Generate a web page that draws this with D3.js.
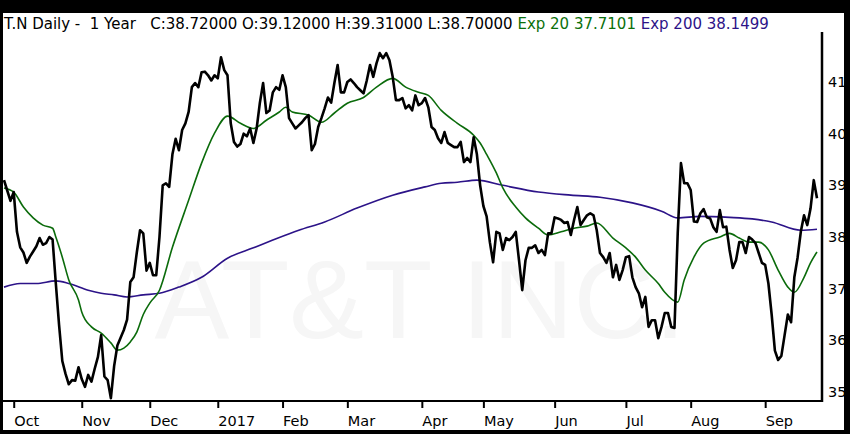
<!DOCTYPE html>
<html lang="en">
	<head>
		<meta charset="UTF-8">
		<title>T.N Daily - 1 Year</title>
		<script src="https://d3js.org/d3.v7.min.js"></script>
		<style>
			body {
				margin: 0;
				background: black;
			}

			svg text {
				font-family: "DejaVu Sans", sans-serif;
			}

			.axis text {
				font-size: 14.5px;
				fill: black;
			}

			.axis line {
				stroke: black;
				stroke-width: 2;
			}

			.watermark {
				font-family: "Liberation Sans", Arial, sans-serif !important;
				font-size: 112px;
				fill: #f6f6f6;
			}
		</style>
	</head>
	<body>
		<div id="chart"></div>
		<script>
			// daily closes, one per trading day (late Sep 2016 .. Sep 2017)
			const closes = [
				39.1, 38.9, 38.7, 38.87, 38.1, 37.8, 37.7, 37.5, 37.62, 37.72,
				37.82, 37.98, 37.85, 37.88, 38.0, 37.95, 37.1, 36.3, 35.6, 35.35,
				35.15, 35.23, 35.22, 35.48, 35.25, 35.1, 35.33, 35.2, 35.45, 35.68,
				36.1, 35.3, 35.23, 34.88, 35.5, 35.9, 36.05, 36.2, 36.4, 37.13,
				37.22, 37.7, 38.13, 38.07, 37.35, 37.5, 37.26, 37.26, 38.0, 39.0,
				39.04, 38.97, 39.6, 39.9, 39.68, 40.07, 40.2, 40.42, 40.9, 40.98,
				40.9, 41.19, 41.2, 41.13, 41.03, 41.13, 41.07, 41.48, 41.23, 41.13,
				40.2, 39.84, 39.75, 39.8, 40.0, 39.95, 40.1, 39.82, 40.1, 40.6,
				40.98, 40.4, 40.45, 40.8, 40.9, 40.85, 41.13, 40.9, 40.3, 40.2,
				40.1, 40.16, 40.22, 40.3, 40.36, 39.68, 39.8, 40.13, 40.3, 40.49,
				40.7, 40.6, 40.98, 41.33, 40.8, 40.8, 41.0, 41.05, 40.98, 40.9,
				40.84, 40.78, 41.03, 41.33, 41.1, 41.36, 41.56, 41.46, 41.56, 41.42,
				41.1, 40.65, 40.65, 40.69, 40.49, 40.55, 40.45, 40.74, 40.55, 40.59,
				40.69, 40.51, 40.13, 40.07, 39.91, 39.82, 40.03, 39.82, 39.78, 39.74,
				39.74, 39.84, 39.45, 39.53, 39.45, 39.93, 39.6, 39.0, 38.6, 38.4,
				37.9, 37.51, 38.1, 38.07, 37.75, 37.98, 37.94, 38.0, 38.1, 37.55,
				36.97, 37.55, 37.79, 37.79, 37.84, 37.69, 37.75, 37.65, 38.07, 38.07,
				38.38, 38.36, 38.33, 38.27, 38.29, 38.04, 38.33, 38.58, 38.23, 38.33,
				38.42, 38.46, 38.42, 38.13, 37.69, 37.61, 37.5, 37.69, 37.22, 37.46,
				37.17, 37.36, 37.61, 37.63, 37.22, 37.03, 36.91, 36.64, 36.84, 36.26,
				36.39, 36.39, 36.04, 36.26, 36.53, 36.53, 36.26, 36.24, 38.07, 39.43,
				39.04, 39.04, 38.91, 38.3, 38.29, 38.46, 38.54, 38.38, 38.36, 38.19,
				38.1, 38.52, 38.19, 38.2, 37.75, 37.4, 37.55, 37.9, 37.9, 37.69,
				38.0, 37.95, 37.88, 37.69, 37.5, 37.46, 37.1, 36.5, 35.8, 35.62,
				35.7, 36.1, 36.5, 36.35, 37.22, 37.6, 38.1, 38.42, 38.23, 38.55,
				39.1, 38.75
			]

			// exponential averages, read at these day indices
			const ema20Days = [0, 3, 6, 9, 12, 15, 16, 18, 20, 23, 24, 27, 30, 33, 35, 37, 39, 41, 43, 45,
				48, 52, 57, 61, 65, 69, 73, 77, 81, 85, 87, 89, 94, 98, 102, 106, 111, 115, 120, 124,
				128, 131, 135, 140, 145, 147, 149, 152, 154, 158, 161, 165, 168, 172, 176, 180, 183, 188, 192, 195,
				198, 202, 204, 208, 210, 213, 216, 221, 224, 227, 230, 233, 236, 239, 242, 244, 247, 249, 251]
			const ema20Values = [38.95, 38.87, 38.58, 38.37, 38.23, 38.17, 38.0, 37.61, 37.17, 36.78, 36.55, 36.26, 36.14, 35.95, 35.81, 35.85, 35.97, 36.16, 36.5, 36.72,
				36.97, 37.8, 38.71, 39.43, 40.01, 40.34, 40.2, 40.1, 40.26, 40.42, 40.51, 40.42, 40.36, 40.22, 40.4, 40.59, 40.7, 40.9, 41.07, 40.9,
				40.8, 40.74, 40.45, 40.2, 39.97, 39.82, 39.6, 39.24, 38.95, 38.58, 38.37, 38.17, 38.04, 38.1, 38.17, 38.21, 38.27, 37.98, 37.79, 37.61,
				37.36, 37.1, 36.93, 36.74, 37.17, 37.61, 37.88, 38.0, 38.07, 37.98, 37.9, 37.9, 37.75, 37.36, 37.03, 36.93, 37.22, 37.5, 37.71]

			const ema200Days = [0, 5, 10, 16, 20, 26, 30, 34, 38, 43, 48, 54, 61, 69, 77, 83, 91, 99, 109, 120,
				130, 135, 140, 146, 154, 165, 175, 184, 194, 203, 208, 215, 224, 231, 237, 246, 251]
			const ema200Values = [37.03, 37.1, 37.1, 37.15, 37.1, 36.97, 36.91, 36.88, 36.84, 36.88, 36.91, 37.03, 37.22, 37.59, 37.79, 37.94, 38.13, 38.29, 38.56, 38.81,
				38.97, 39.04, 39.06, 39.1, 39.0, 38.87, 38.81, 38.77, 38.66, 38.5, 38.37, 38.4, 38.38, 38.35, 38.29, 38.13, 38.15]

			const monthLabels = ["Oct", "Nov", "Dec", "2017", "Feb", "Mar", "Apr", "May", "Jun", "Jul", "Aug", "Sep"]
			const monthDays = [3, 24, 45, 66, 86, 106, 129, 148, 170, 192, 212, 235]
			const priceTicks = [35, 36, 37, 38, 39, 40, 41]

			const width = 850
			const height = 434
			const plot = { left: 3, right: 822, top: 32, bottom: 400 }

			const svg = d3.select("#chart").append("svg")
				.attr("width", width)
				.attr("height", height)
				.style("display", "block")

			// frame
			svg.append("rect").attr("width", width).attr("height", height).attr("fill", "black")
			svg.append("rect").attr("x", 3).attr("y", 13).attr("width", 841).attr("height", 417).attr("fill", "white")

			const x = d3.scaleLinear().domain([0, closes.length - 1]).range([4, 817])
			const y = d3.scaleLinear().domain([35, 41]).range([392, 82])

			svg.append("text")
				.classed("watermark", true)
				.attr("x", 420)
				.attr("y", 338)
				.attr("text-anchor", "middle")
				.text("AT&T INC.")

			// Exp 200
			svg.append("path")
				.datum(ema200Days)
				.attr("fill", "none")
				.attr("stroke", "#2c1388")
				.attr("stroke-width", 1.6)
				.attr("d", d3.line().curve(d3.curveMonotoneX).x(d => x(d)).y((d, i) => y(ema200Values[i])))

			// Exp 20
			svg.append("path")
				.datum(ema20Days)
				.attr("fill", "none")
				.attr("stroke", "#0b6b0b")
				.attr("stroke-width", 1.6)
				.attr("d", d3.line().curve(d3.curveMonotoneX).x(d => x(d)).y((d, i) => y(ema20Values[i])))

			// closes
			svg.append("path")
				.datum(closes)
				.attr("fill", "none")
				.attr("stroke", "black")
				.attr("stroke-width", 2.6)
				.attr("stroke-linejoin", "round")
				.attr("d", d3.line().x((d, i) => x(i)).y(d => y(d)))

			// axes
			svg.append("line")
				.attr("x1", plot.left).attr("x2", plot.right + 1)
				.attr("y1", plot.bottom + 1).attr("y2", plot.bottom + 1)
				.attr("stroke", "black").attr("stroke-width", 2)
			svg.append("line")
				.attr("x1", plot.right).attr("x2", plot.right)
				.attr("y1", plot.top).attr("y2", plot.bottom + 2)
				.attr("stroke", "black").attr("stroke-width", 2.5)

			const xAxis = svg.append("g")
				.classed("axis", true)
				.attr("transform", `translate(0,${plot.bottom + 1})`)
				.call(d3.axisBottom(x).tickValues(monthDays).tickSize(7).tickFormat((d, i) => monthLabels[i]))
			xAxis.select(".domain").remove()
			xAxis.selectAll("text")
				.attr("text-anchor", "start")
				.attr("x", 0)
				.attr("dy", null)
				.attr("y", 25)

			const yAxis = svg.append("g")
				.classed("axis", true)
				.attr("transform", `translate(${plot.right + 3},0)`)
				.call(d3.axisRight(y).tickValues(priceTicks).tickSize(0).tickFormat(d3.format("d")))
			yAxis.select(".domain").remove()
			yAxis.selectAll("line").remove()

			// header
			const title = svg.append("text")
				.attr("x", 4)
				.attr("y", 29)
				.style("font-size", "15px")
			title.append("tspan").attr("fill", "black").text("T.N Daily -  1 Year   C:38.72000 O:39.12000 H:39.31000 L:38.70000 ")
			title.append("tspan").attr("fill", "#0b700b").text("Exp 20 37.7101 ")
			title.append("tspan").attr("fill", "#2c1388").text("Exp 200 38.1499")
			title.attr("xml:space", "preserve").style("white-space", "pre")
		</script>
	</body>
</html>
